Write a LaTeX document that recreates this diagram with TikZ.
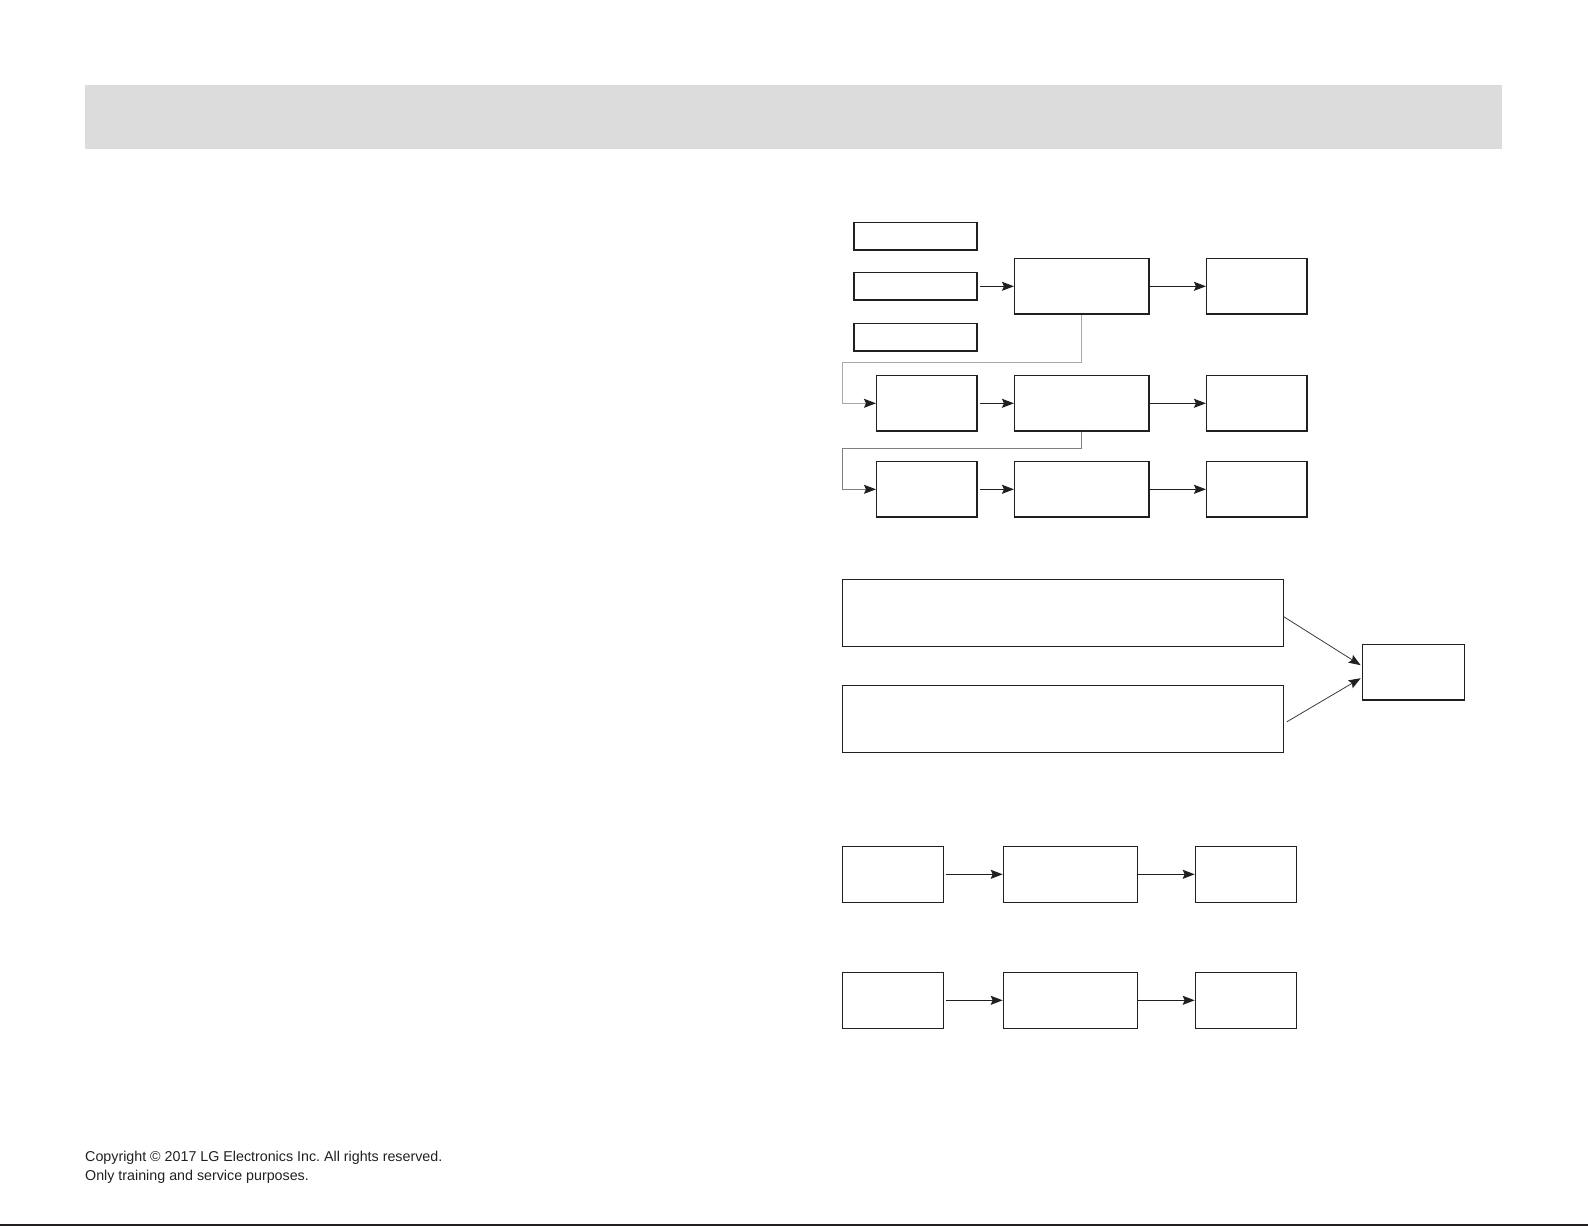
\documentclass[tikz,border=0pt]{standalone}
\usepackage{fontspec}
\setmainfont{Liberation Sans}
\usetikzlibrary{arrows.meta,calc}
\definecolor{ink}{HTML}{231F20}
\definecolor{band}{HTML}{DCDCDC}
\definecolor{linkA}{HTML}{A8A8A8}
\definecolor{linkB}{HTML}{808080}
\definecolor{thinline}{HTML}{3A3A3A}
\frenchspacing
\begin{document}
\begin{tikzpicture}[x=1pt,y=-1pt,
  box/.style={draw=ink, line width=1.2pt, inner sep=0pt, fill=none},
  tip/.style={-{Stealth[length=12pt,width=9pt,inset=2pt,color=ink]}},
  arr/.style={draw=ink, line width=1.2pt, tip},
  thinarr/.style={draw=thinline, line width=0.8pt, tip},
  link/.style={line width=1pt, tip},
  small/.style={box, minimum width=123pt, minimum height=27.5pt},
  wide/.style={box, minimum width=134.5pt, minimum height=55.5pt},
  narrow/.style={box, minimum width=100.5pt, minimum height=55.5pt},
  foot/.style={font=\fontsize{14.27pt}{18.3pt}\selectfont, text=ink, inner sep=0pt, anchor=base west}]
\useasboundingbox (0,0) rectangle (1588,1226);
% header band and bottom rule
\fill[band] (85,85) rectangle (1502,149);
\draw[ink, line width=2pt] (0,1225) -- (1588,1225);
% top group
\node[small] (s1) at (915.5,236.3) {};
\node[small] (s2) at (915.5,286.3) {};
\node[small] (s3) at (915.5,337.3) {};
\node[wide] (m1) at (1081.8,286.3) {};
\node[narrow] (r1) at (1256.8,286.3) {};
\node[narrow] (l2) at (926.8,403.3) {};
\node[wide] (m2) at (1081.8,403.3) {};
\node[narrow] (r2) at (1256.8,403.3) {};
\node[narrow] (l3) at (926.8,489.3) {};
\node[wide] (m3) at (1081.8,489.3) {};
\node[narrow] (r3) at (1256.8,489.3) {};
\coordinate (j1) at (842.3,362.3);
\coordinate (j2) at (842.3,448);
\draw[arr, shorten <=2pt] (s2.east) -- (m1.west);
\draw[arr] (m1.east) -- (r1.west);
\draw[arr, shorten <=2pt] (l2.east) -- (m2.west);
\draw[arr] (m2.east) -- (r2.west);
\draw[arr, shorten <=2pt] (l3.east) -- (m3.west);
\draw[arr] (m3.east) -- (r3.west);
\draw[link, draw=linkA] (m1.south) |- (j1) |- (l2.west);
\draw[link, draw=linkB] (m2.south) |- (j2) |- (l3.west);
% middle group
\node[box, minimum width=441pt, minimum height=67pt] (A) at (1062.8,612.8) {};
\node[box, minimum width=441pt, minimum height=67pt] (B) at (1062.8,718.8) {};
\node[box, minimum width=102pt, minimum height=55.7pt] (R) at (1413.3,672.2) {};
\draw[thinarr] ($(A.east)+(0,4)$) -- ($(R.west)+(-1,-7)$);
\draw[thinarr] ($(B.east)+(3,3)$) -- ($(R.west)+(-1,6)$);
% bottom group
\node[box, minimum width=101pt, minimum height=56pt] (a4) at (892.8,874.3) {};
\node[box, minimum width=134pt, minimum height=56pt] (b4) at (1070.3,874.3) {};
\node[box, minimum width=101pt, minimum height=56pt] (c4) at (1245.8,874.3) {};
\node[box, minimum width=101pt, minimum height=56pt] (a5) at (892.8,1000.3) {};
\node[box, minimum width=134pt, minimum height=56pt] (b5) at (1070.3,1000.3) {};
\node[box, minimum width=101pt, minimum height=56pt] (c5) at (1245.8,1000.3) {};
\draw[arr, shorten <=2pt] (a4.east) -- (b4.west);
\draw[arr] (b4.east) -- (c4.west);
\draw[arr, shorten <=2pt] (a5.east) -- (b5.west);
\draw[arr] (b5.east) -- (c5.west);
% footer
\node[foot] (cp1) at (85,1161.7) {Copyright © 2017 LG Electronics Inc. All rights reserved.};
\node[foot] (cp2) at (85,1180) {Only training and service purposes.};
\end{tikzpicture}
\end{document}
